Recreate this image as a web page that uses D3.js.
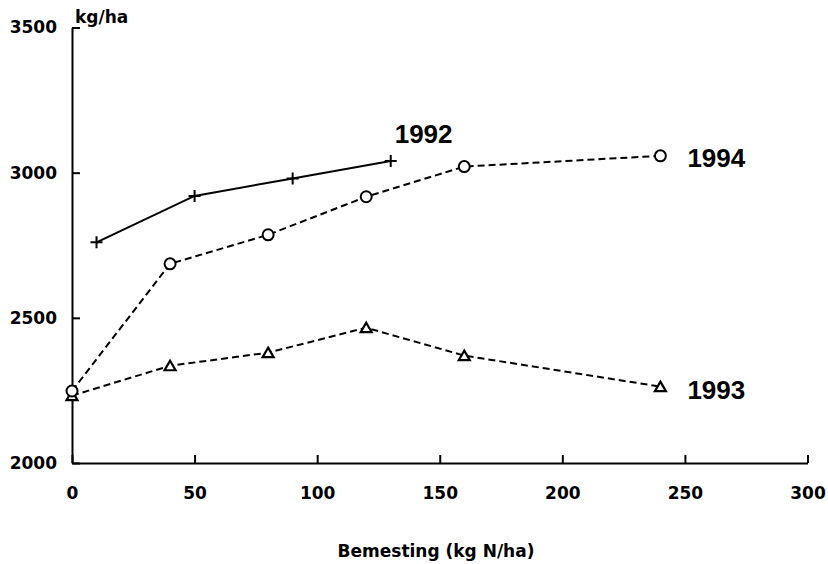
<!DOCTYPE html>
<html>
<head>
<meta charset="utf-8"/>
<script src="https://cdn.jsdelivr.net/npm/d3@7"></script>
<style>
	body { margin:0; background:#fff; }
	.tick text, .unit, .xlabel { font:bold 17px "DejaVu Sans", sans-serif; fill:#000; }
	.year { font:bold 26px "Liberation Sans", Arial, sans-serif; fill:#000; }
</style>
</head>
<body>
<script>
var dose1992 = [10, 50, 90, 130];
var yield1992 = [2760, 2920, 2980, 3040];
var dose1993 = [0, 40, 80, 120, 160, 240];
var yield1993 = [2232, 2335, 2380, 2466, 2370, 2263];
var dose1994 = [0, 40, 80, 120, 160, 240];
var yield1994 = [2248, 2686, 2786, 2917, 3021, 3058];
var xTicks = [0, 50, 100, 150, 200, 250, 300];
var yTicks = [2000, 2500, 3000, 3500];

var width = 828, height = 564;
var svg = d3.select("body").append("svg")
	.attr("width", width)
	.attr("height", height);

var x = d3.scaleLinear().domain([0, 300]).range([72, 807.5]);
var y = d3.scaleLinear().domain([2000, 3500]).range([463, 27.5]);

// axes, ticks pointing inward
svg.append("g")
	.attr("transform", "translate(0," + y(2000) + ")")
	.call(d3.axisBottom(x).tickValues(xTicks).tickFormat(d3.format("d"))
		.tickSizeInner(-8).tickSizeOuter(0).tickPadding(24));
svg.append("g")
	.attr("transform", "translate(" + x(0) + ",0)")
	.call(d3.axisLeft(y).tickValues(yTicks).tickFormat(d3.format("d"))
		.tickSizeInner(-8).tickSizeOuter(0).tickPadding(15));
svg.selectAll(".domain, .tick line").attr("stroke", "#000").attr("stroke-width", 2);

svg.append("text").attr("class", "unit").attr("x", 75).attr("y", 23).text("kg/ha");
svg.append("text").attr("class", "xlabel").attr("x", 436).attr("y", 557)
	.attr("text-anchor", "middle").text("Bemesting (kg N/ha)");

var line = d3.line().x(function(d) { return x(d[0]); }).y(function(d) { return y(d[1]); });

function series(xs, ys, dash, marker, label, lx, ly) {
	var pts = d3.zip(xs, ys);
	svg.append("path")
		.datum(pts)
		.attr("d", line)
		.attr("fill", "none")
		.attr("stroke", "#000")
		.attr("stroke-width", 2)
		.attr("stroke-dasharray", dash);
	var g = svg.append("g").selectAll("g").data(pts).enter().append("g")
		.attr("transform", function(d) { return "translate(" + x(d[0]) + "," + y(d[1]) + ")"; });
	if (marker == "plus") {
		g.append("path").attr("d", "M-6,0H6M0,-6V6").attr("stroke", "#000").attr("stroke-width", 2);
	} else if (marker == "circle") {
		g.append("circle").attr("r", 5.5).attr("fill", "#fff").attr("stroke", "#000").attr("stroke-width", 2);
	} else {
		g.append("path").attr("d", "M0,-5L5.5,4.5L-5.5,4.5Z").attr("fill", "#fff").attr("stroke", "#000").attr("stroke-width", 2.2);
	}
	var last = pts[pts.length - 1];
	svg.append("text").attr("class", "year")
		.attr("x", x(last[0]) + lx)
		.attr("y", y(last[1]) + ly)
		.text(label);
}

series(dose1993, yield1993, "7,4", "triangle", "1993", 27, 12);
series(dose1994, yield1994, "7,4", "circle", "1994", 27, 11);
series(dose1992, yield1992, null, "plus", "1992", 4, -18);
</script>
</body>
</html>
